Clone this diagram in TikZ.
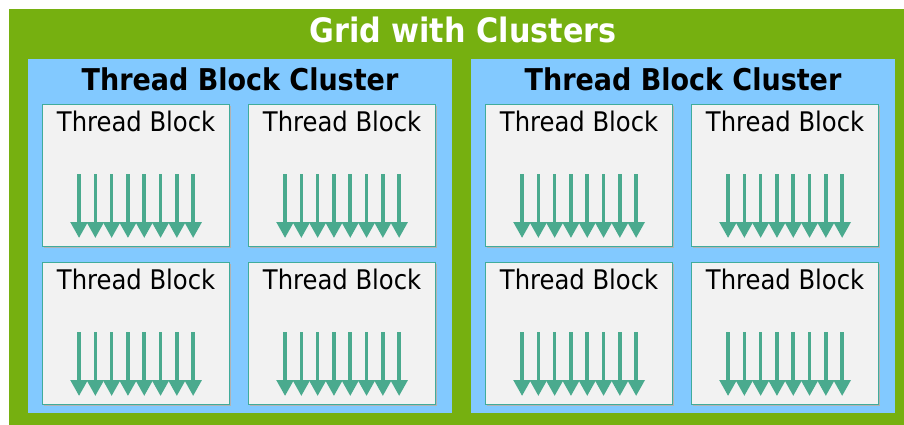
\documentclass[tikz,border=0pt]{standalone}
\usepackage{fontspec}
\setmainfont{DejaVu Sans Condensed}
\usetikzlibrary{arrows.meta}
\definecolor{nvgreen}{RGB}{118,176,16}
\definecolor{clblue}{RGB}{130,201,255}
\definecolor{blkfill}{RGB}{242,242,242}
\definecolor{blkedge}{RGB}{64,172,156}
\definecolor{thrcol}{RGB}{74,170,142}
\begin{document}
\begin{tikzpicture}[x=1pt,y=-1pt,
  gridbox/.style={fill=nvgreen,draw=none,inner sep=0pt,minimum width=895pt,minimum height=416pt,anchor=north west},
  clusterbox/.style={fill=clblue,draw=none,inner sep=0pt,minimum width=424pt,minimum height=354pt,anchor=north west},
  blk/.style={fill=blkfill,draw=blkedge,line width=1.2pt,inner sep=0pt,minimum width=187pt,minimum height=142pt,anchor=north west,
    preaction={fill=black!30,transform canvas={xshift=1.3pt,yshift=-1.3pt}}},
  gridtitle/.style={anchor=base,text=white,font=\bfseries\fontsize{33.6}{33.6}\selectfont,inner sep=0pt},
  cltitle/.style={anchor=base,text=black,font=\bfseries\fontsize{30}{30}\selectfont,inner sep=0pt},
  blklabel/.style={anchor=base,text=black,font=\fontsize{27}{27}\selectfont,inner sep=0pt},
  thr/.style={draw=thrcol,line width=3.6pt,-{Triangle[width=16.6pt,length=16pt]}}
]
\useasboundingbox (0,0) rectangle (904,425);
\fill[white] (0,0) rectangle (904,425);
\node[gridbox] (grid) at (9,9) {};
\node[gridtitle] (gridt) at (463,43) {Grid with Clusters};
\node[clusterbox] (cl1) at (28,59) {};
\node[clusterbox] (cl2) at (471,59) {};
\node[cltitle] (cl1t) at (240,91) {Thread Block Cluster};
\node[cltitle] (cl2t) at (683,91) {Thread Block Cluster};
\foreach \bx/\by/\nm in {42/104/a, 248/104/b, 42/262/c, 248/262/d, 485/104/e, 691/104/f, 485/262/g, 691/262/h} {
  \node[blk] (\nm) at (\bx,\by) {};
  \node[blklabel] (\nm t) at ([yshift=-27.5pt]\nm.north) {Thread Block};
  \foreach \i in {0,...,7} {
    \coordinate (\nm s\i) at ([xshift={(\i-3.5)*16.3pt},yshift=-70pt]\nm.north);
    \coordinate (\nm e\i) at ([xshift={(\i-3.5)*16.3pt},yshift=-134pt]\nm.north);
    \draw[thr] (\nm s\i) -- (\nm e\i);
  }
}
\end{tikzpicture}
\end{document}
